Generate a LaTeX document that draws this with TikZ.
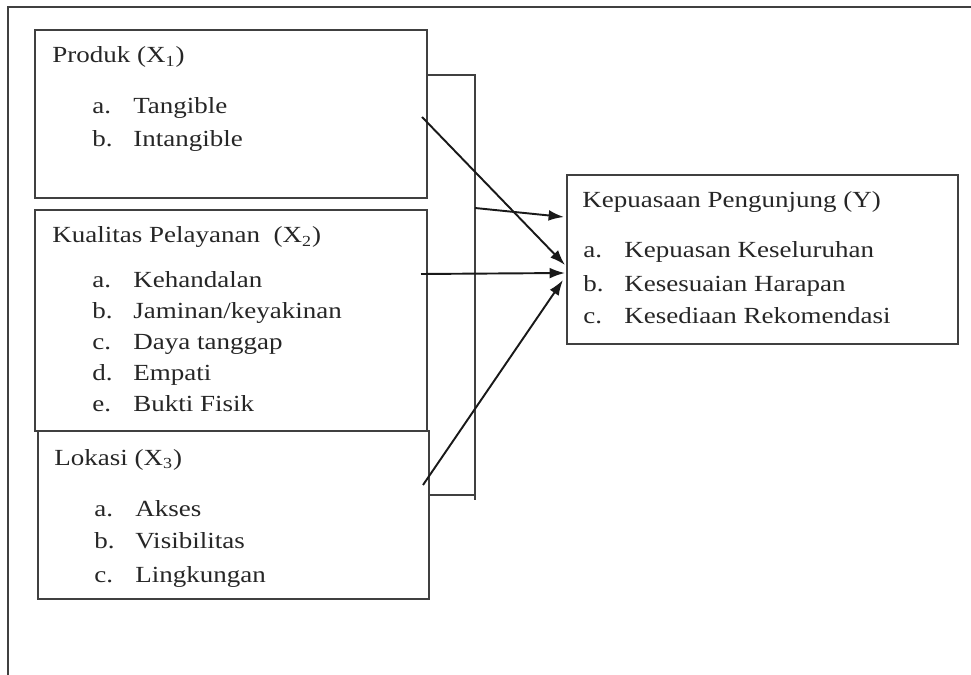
\documentclass[tikz,border=0pt]{standalone}
\usepackage{fontspec}
\setmainfont[FakeStretch=1.17]{Liberation Serif}
\usepackage{tikz}
\usetikzlibrary{arrows.meta,positioning}
\usepackage{xcolor}

\begin{document}
\begin{tikzpicture}[x=0.52pt,y=-0.52pt,
        box/.style={draw=black!75, line width=0.9pt, anchor=north west, inner sep=0pt},
        wire/.style={draw=black!75, line width=0.9pt},
        title/.style={anchor=base west, inner sep=0pt, text=black!85, font=\fontsize{12}{14}\selectfont},
        item/.style={title},
        arr/.style={-{Latex[length=8pt,width=5.6pt]}, line width=1pt, black!90}]
    \useasboundingbox (0,0) rectangle (971,675);

    % outer frame
    \draw[line width=1pt, black!75] (971,7) -- (8,7) -- (8,675);

    % boxes
    \node[box, minimum width=392*0.52pt, minimum height=168*0.52pt] (x1) at (34,29) {};
    \node[box, minimum width=392*0.52pt, minimum height=221*0.52pt] (x2) at (34,209) {};
    \node[box, minimum width=391*0.52pt, minimum height=168*0.52pt] (x3) at (37,430) {};
    \node[box, minimum width=391*0.52pt, minimum height=169*0.52pt] (y) at (566,174) {};

    % texts
    \node[title] (x1t) at (52,63) {Produk (X\textsubscript{1})};
    \foreach \lab/\txt/\yy [count=\i] in {a./Tangible/114, b./Intangible/147}
        \node[item] (x1i\i) at (92,\yy) {\makebox[21.3pt][l]{\lab}\txt};

    \node[title] (x2t) at (52,243) {Kualitas Pelayanan\ \ (X\textsubscript{2})};
    \foreach \lab/\txt/\yy [count=\i] in {a./Kehandalan/288, b./{Jaminan/keyakinan}/319,
            c./Daya tanggap/350, d./Empati/381, e./Bukti Fisik/412}
        \node[item] (x2i\i) at (92,\yy) {\makebox[21.3pt][l]{\lab}\txt};

    \node[title] (x3t) at (54,465) {Lokasi (X\textsubscript{3})};
    \foreach \lab/\txt/\yy [count=\i] in {a./Akses/516, b./Visibilitas/549, c./Lingkungan/582}
        \node[item] (x3i\i) at (94,\yy) {\makebox[21.3pt][l]{\lab}\txt};

    \node[title] (yt) at (582,208) {Kepuasaan Pengunjung (Y)};
    \foreach \lab/\txt/\yy [count=\i] in {a./Kepuasan Keseluruhan/258,
            b./Kesesuaian Harapan/292, c./Kesediaan Rekomendasi/324}
        \node[item] (yi\i) at (583,\yy) {\makebox[21.3pt][l]{\lab}\txt};

    % bracket
    \coordinate (bt) at (475,75);
    \coordinate (bb) at (475,495);
    \draw[wire] (x1.east |- bt) -- (bt) -- ([yshift=-2.6pt]bb);
    \draw[wire] (x3.east |- bb) -- (bb);

    % arrows
    \coordinate (s1) at (422,117);
    \coordinate (s2) at (475,208);
    \coordinate (s3) at (421,274);
    \coordinate (s4) at (423,485);
    \coordinate (e1) at (565,265);
    \coordinate (e2) at (564,217);
    \coordinate (e3) at (565,273);
    \coordinate (e4) at (563,280);
    \draw[arr] (s1) -- (e1);
    \draw[arr] (s2) -- (e2);
    \draw[arr] (s3) -- (e3);
    \draw[arr] (s4) -- (e4);
\end{tikzpicture}
\end{document}
